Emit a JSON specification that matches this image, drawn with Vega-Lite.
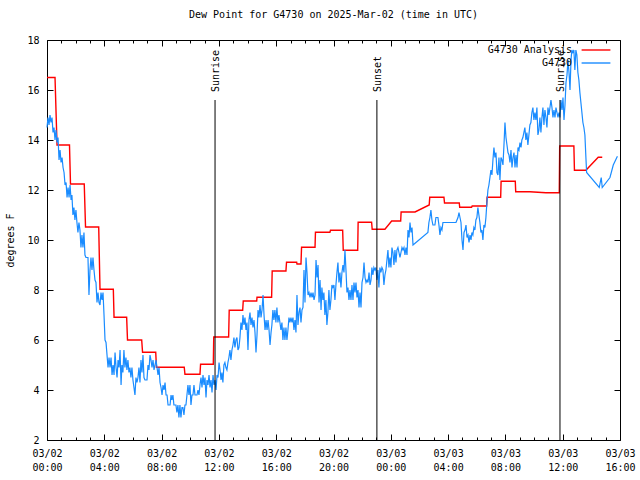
{
"$schema": "https://vega.github.io/schema/vega-lite/v6.json",
"width": 573, "height": 400,
"autosize": "none",
"padding": {"left": 47, "top": 40, "right": 20, "bottom": 40},
"background": "white",
"config": {"font": "DejaVu Sans Mono", "view": {"stroke": "black", "strokeWidth": 1},
 "axis": {"grid": false, "domain": false, "tickColor": "black", "labelColor": "black", "labelFontSize": 10, "labelFont": "DejaVu Sans Mono", "titleFont": "DejaVu Sans Mono", "titleFontSize": 10, "titleFontWeight": "normal", "titleColor": "black", "tickWidth": 1}},
"title": {"text": "Dew Point for G4730 on 2025-Mar-02 (time in UTC)", "fontSize": 10, "fontWeight": "normal", "font": "DejaVu Sans Mono", "anchor": "middle", "offset": 15, "color": "black"},
"datasets": {
"analysis": [
{"t":0,"v":16.5},{"t":0.56,"v":16.5},{"t":0.70,"v":13.8},{"t":1.57,"v":13.8},{"t":1.64,"v":12.24},{"t":2.60,"v":12.24},{"t":2.69,"v":10.52},{"t":3.61,"v":10.52},{"t":3.70,"v":8.03},{"t":4.63,"v":8.03},{"t":4.68,"v":6.91},{"t":5.56,"v":6.91},{"t":5.62,"v":6.0},{"t":6.61,"v":6.0},{"t":6.67,"v":5.51},{"t":7.59,"v":5.51},{"t":7.64,"v":4.91},{"t":9.58,"v":4.91},{"t":9.63,"v":4.63},{"t":10.68,"v":4.63},{"t":10.72,"v":5.03},{"t":11.61,"v":5.03},{"t":11.64,"v":6.12},{"t":12.68,"v":6.12},{"t":12.72,"v":7.19},{"t":13.66,"v":7.19},{"t":13.70,"v":7.56},{"t":14.64,"v":7.56},{"t":14.66,"v":7.71},{"t":15.68,"v":7.71},{"t":15.72,"v":8.76},{"t":16.68,"v":8.76},{"t":16.72,"v":9.11},{"t":17.43,"v":9.11},{"t":17.45,"v":9.04},{"t":17.73,"v":9.04},{"t":17.77,"v":9.71},{"t":18.71,"v":9.71},{"t":18.74,"v":10.31},{"t":19.75,"v":10.31},{"t":19.79,"v":10.39},{"t":20.64,"v":10.39},{"t":20.68,"v":9.59},{"t":21.69,"v":9.59},{"t":21.72,"v":10.71},{"t":22.66,"v":10.71},{"t":22.70,"v":10.43},{"t":23.59,"v":10.43},{"t":24.06,"v":10.76},{"t":24.69,"v":10.76},{"t":24.72,"v":11.12},{"t":25.69,"v":11.12},{"t":26.68,"v":11.4},{"t":26.72,"v":11.71},{"t":27.71,"v":11.71},{"t":27.75,"v":11.48},{"t":28.78,"v":11.48},{"t":28.81,"v":11.31},{"t":29.64,"v":11.31},{"t":29.68,"v":11.36},{"t":30.69,"v":11.36},{"t":30.72,"v":11.71},{"t":31.67,"v":11.71},{"t":31.70,"v":12.35},{"t":32.69,"v":12.35},{"t":32.72,"v":11.93},{"t":33.71,"v":11.93},{"t":34.83,"v":11.89},{"t":35.76,"v":11.89},{"t":35.79,"v":13.76},{"t":36.78,"v":13.76},{"t":36.82,"v":12.79},{"t":37.62,"v":12.79},{"t":38.48,"v":13.31},{"t":38.76,"v":13.31}
],
"obs": [
{"t":0.00,"v":14.5},{"t":0.07,"v":14.9},{"t":0.14,"v":14.6},{"t":0.21,"v":15.0},{"t":0.28,"v":14.7},{"t":0.35,"v":14.9},{"t":0.42,"v":14.3},{"t":0.49,"v":14.5},{"t":0.56,"v":14.0},{"t":0.63,"v":14.4},{"t":0.70,"v":13.9},{"t":0.77,"v":14.1},{"t":0.84,"v":13.2},{"t":0.91,"v":13.6},{"t":0.98,"v":13.1},{"t":1.05,"v":13.3},{"t":1.12,"v":12.9},{"t":1.19,"v":12.7},{"t":1.26,"v":12.2},{"t":1.33,"v":12.3},{"t":1.40,"v":11.7},{"t":1.47,"v":12.1},{"t":1.54,"v":11.7},{"t":1.61,"v":12.2},{"t":1.68,"v":11.6},{"t":1.74,"v":11.8},{"t":1.81,"v":11.0},{"t":1.88,"v":11.3},{"t":1.95,"v":10.8},{"t":2.02,"v":11.2},{"t":2.09,"v":10.7},{"t":2.16,"v":10.3},{"t":2.23,"v":10.7},{"t":2.30,"v":10.4},{"t":2.37,"v":9.7},{"t":2.44,"v":10.2},{"t":2.51,"v":9.7},{"t":2.58,"v":10.3},{"t":2.65,"v":9.4},{"t":2.72,"v":9.3},{"t":2.86,"v":9.3},{"t":2.93,"v":7.8},{"t":3.00,"v":8.8},{"t":3.07,"v":9.3},{"t":3.14,"v":8.8},{"t":3.21,"v":9.3},{"t":3.28,"v":8.8},{"t":3.35,"v":8.4},{"t":3.42,"v":8.3},{"t":3.49,"v":7.5},{"t":3.56,"v":7.9},{"t":3.63,"v":7.5},{"t":3.70,"v":7.4},{"t":3.77,"v":7.9},{"t":3.84,"v":7.6},{"t":3.91,"v":7.9},{"t":3.98,"v":7.0},{"t":4.05,"v":6.0},{"t":4.12,"v":5.9},{"t":4.19,"v":5.4},{"t":4.26,"v":4.9},{"t":4.33,"v":5.3},{"t":4.40,"v":4.9},{"t":4.47,"v":5.3},{"t":4.54,"v":4.6},{"t":4.61,"v":5.0},{"t":4.68,"v":4.6},{"t":4.75,"v":5.5},{"t":4.82,"v":4.9},{"t":4.89,"v":4.5},{"t":4.96,"v":5.2},{"t":5.03,"v":4.9},{"t":5.10,"v":5.6},{"t":5.17,"v":4.2},{"t":5.23,"v":5.0},{"t":5.30,"v":4.7},{"t":5.37,"v":5.6},{"t":5.44,"v":4.9},{"t":5.51,"v":5.3},{"t":5.58,"v":4.8},{"t":5.65,"v":5.2},{"t":5.72,"v":4.7},{"t":5.79,"v":4.9},{"t":5.86,"v":4.5},{"t":5.93,"v":4.9},{"t":6.00,"v":4.4},{"t":6.07,"v":4.1},{"t":6.14,"v":3.8},{"t":6.21,"v":4.5},{"t":6.28,"v":4.3},{"t":6.35,"v":4.5},{"t":6.42,"v":4.9},{"t":6.49,"v":4.3},{"t":6.56,"v":5.2},{"t":6.63,"v":4.7},{"t":6.70,"v":5.4},{"t":6.77,"v":4.5},{"t":6.84,"v":4.4},{"t":6.98,"v":4.4},{"t":7.05,"v":5.0},{"t":7.12,"v":4.8},{"t":7.19,"v":5.4},{"t":7.26,"v":5.2},{"t":7.33,"v":4.9},{"t":7.40,"v":5.2},{"t":7.47,"v":4.8},{"t":7.54,"v":5.0},{"t":7.61,"v":5.2},{"t":7.68,"v":4.9},{"t":7.75,"v":4.6},{"t":7.82,"v":4.9},{"t":7.89,"v":4.3},{"t":7.96,"v":4.1},{"t":8.03,"v":3.8},{"t":8.10,"v":4.2},{"t":8.17,"v":4.0},{"t":8.24,"v":4.3},{"t":8.31,"v":3.8},{"t":8.38,"v":3.8},{"t":8.45,"v":3.4},{"t":8.59,"v":3.4},{"t":8.66,"v":3.8},{"t":8.72,"v":3.6},{"t":8.79,"v":3.8},{"t":8.86,"v":3.4},{"t":9.00,"v":3.4},{"t":9.07,"v":3.1},{"t":9.14,"v":3.4},{"t":9.21,"v":2.9},{"t":9.28,"v":3.4},{"t":9.35,"v":2.9},{"t":9.42,"v":3.3},{"t":9.49,"v":3.3},{"t":9.56,"v":3.0},{"t":9.63,"v":3.4},{"t":9.70,"v":3.4},{"t":9.77,"v":3.8},{"t":9.84,"v":4.2},{"t":9.91,"v":3.8},{"t":9.98,"v":4.2},{"t":10.05,"v":3.4},{"t":10.12,"v":3.8},{"t":10.19,"v":3.8},{"t":10.26,"v":4.2},{"t":10.33,"v":3.8},{"t":10.47,"v":3.8},{"t":10.54,"v":4.0},{"t":10.61,"v":3.8},{"t":10.68,"v":4.2},{"t":10.75,"v":4.5},{"t":10.82,"v":4.1},{"t":10.89,"v":4.6},{"t":10.96,"v":4.2},{"t":11.03,"v":4.5},{"t":11.10,"v":3.7},{"t":11.17,"v":4.4},{"t":11.24,"v":4.2},{"t":11.31,"v":4.6},{"t":11.38,"v":4.1},{"t":11.45,"v":4.4},{"t":11.52,"v":3.9},{"t":11.59,"v":4.6},{"t":11.66,"v":4.2},{"t":11.73,"v":4.4},{"t":11.80,"v":4.0},{"t":11.87,"v":4.6},{"t":11.94,"v":4.5},{"t":12.01,"v":5.1},{"t":12.08,"v":4.8},{"t":12.15,"v":4.4},{"t":12.21,"v":4.7},{"t":12.28,"v":4.3},{"t":12.35,"v":5.0},{"t":12.42,"v":5.1},{"t":12.49,"v":4.9},{"t":12.56,"v":4.8},{"t":12.63,"v":5.1},{"t":12.70,"v":5.3},{"t":12.77,"v":5.6},{"t":12.84,"v":5.2},{"t":12.91,"v":5.6},{"t":12.98,"v":5.8},{"t":13.05,"v":6.1},{"t":13.12,"v":5.7},{"t":13.19,"v":6.0},{"t":13.26,"v":6.1},{"t":13.33,"v":5.6},{"t":13.40,"v":5.7},{"t":13.47,"v":6.1},{"t":13.54,"v":6.7},{"t":13.61,"v":6.4},{"t":13.68,"v":7.0},{"t":13.75,"v":6.6},{"t":13.82,"v":6.9},{"t":13.89,"v":6.4},{"t":13.96,"v":6.7},{"t":14.03,"v":5.6},{"t":14.10,"v":6.8},{"t":14.17,"v":7.1},{"t":14.24,"v":6.6},{"t":14.31,"v":6.9},{"t":14.38,"v":6.5},{"t":14.45,"v":6.8},{"t":14.52,"v":6.3},{"t":14.59,"v":5.5},{"t":14.66,"v":6.2},{"t":14.73,"v":7.2},{"t":14.80,"v":6.9},{"t":14.87,"v":7.4},{"t":14.94,"v":6.9},{"t":15.01,"v":7.2},{"t":15.08,"v":7.8},{"t":15.15,"v":7.0},{"t":15.22,"v":6.4},{"t":15.29,"v":6.8},{"t":15.36,"v":6.4},{"t":15.43,"v":6.8},{"t":15.50,"v":6.4},{"t":15.57,"v":5.8},{"t":15.64,"v":6.3},{"t":15.70,"v":6.6},{"t":15.77,"v":7.2},{"t":15.84,"v":6.8},{"t":15.91,"v":7.2},{"t":15.98,"v":6.7},{"t":16.05,"v":7.3},{"t":16.12,"v":6.7},{"t":16.19,"v":7.0},{"t":16.26,"v":6.7},{"t":16.33,"v":6.4},{"t":16.40,"v":6.7},{"t":16.47,"v":6.0},{"t":16.54,"v":6.5},{"t":16.61,"v":6.0},{"t":16.68,"v":6.5},{"t":16.75,"v":6.0},{"t":16.82,"v":6.4},{"t":16.89,"v":6.9},{"t":16.96,"v":6.7},{"t":17.03,"v":6.9},{"t":17.10,"v":6.7},{"t":17.17,"v":6.9},{"t":17.24,"v":6.4},{"t":17.31,"v":6.8},{"t":17.38,"v":6.3},{"t":17.45,"v":7.8},{"t":17.52,"v":6.6},{"t":17.59,"v":7.1},{"t":17.66,"v":7.3},{"t":17.73,"v":6.7},{"t":17.80,"v":7.2},{"t":17.87,"v":7.3},{"t":17.94,"v":8.8},{"t":18.01,"v":7.5},{"t":18.08,"v":9.3},{"t":18.15,"v":8.7},{"t":18.22,"v":7.8},{"t":18.29,"v":7.9},{"t":18.36,"v":7.7},{"t":18.43,"v":7.9},{"t":18.50,"v":7.7},{"t":18.57,"v":7.9},{"t":18.64,"v":7.6},{"t":18.71,"v":7.8},{"t":18.78,"v":9.2},{"t":18.85,"v":8.5},{"t":18.92,"v":9.0},{"t":18.99,"v":7.5},{"t":19.06,"v":8.4},{"t":19.13,"v":7.2},{"t":19.19,"v":8.1},{"t":19.26,"v":7.6},{"t":19.33,"v":7.9},{"t":19.40,"v":7.0},{"t":19.47,"v":7.6},{"t":19.54,"v":6.6},{"t":19.61,"v":7.1},{"t":19.68,"v":8.0},{"t":19.75,"v":7.2},{"t":19.82,"v":7.6},{"t":19.89,"v":8.2},{"t":19.96,"v":8.1},{"t":20.03,"v":8.2},{"t":20.10,"v":7.6},{"t":20.17,"v":8.2},{"t":20.24,"v":8.7},{"t":20.31,"v":9.1},{"t":20.38,"v":8.3},{"t":20.45,"v":8.7},{"t":20.52,"v":8.1},{"t":20.59,"v":8.7},{"t":20.66,"v":9.0},{"t":20.73,"v":8.7},{"t":20.80,"v":9.6},{"t":20.87,"v":8.8},{"t":20.94,"v":7.9},{"t":21.01,"v":8.1},{"t":21.08,"v":7.6},{"t":21.15,"v":8.0},{"t":21.22,"v":7.6},{"t":21.29,"v":8.2},{"t":21.36,"v":7.6},{"t":21.43,"v":8.3},{"t":21.50,"v":7.9},{"t":21.57,"v":8.3},{"t":21.64,"v":7.7},{"t":21.71,"v":8.0},{"t":21.78,"v":7.3},{"t":21.85,"v":7.9},{"t":21.92,"v":7.3},{"t":21.99,"v":8.3},{"t":22.06,"v":8.5},{"t":22.13,"v":9.1},{"t":22.20,"v":8.5},{"t":22.27,"v":8.3},{"t":22.34,"v":8.4},{"t":22.41,"v":8.3},{"t":22.48,"v":8.7},{"t":22.55,"v":8.2},{"t":22.62,"v":8.4},{"t":22.68,"v":8.9},{"t":22.75,"v":8.6},{"t":22.82,"v":8.9},{"t":22.89,"v":8.8},{"t":22.96,"v":8.9},{"t":23.03,"v":8.4},{"t":23.10,"v":8.8},{"t":23.17,"v":8.1},{"t":23.24,"v":8.9},{"t":23.31,"v":8.7},{"t":23.38,"v":8.9},{"t":23.45,"v":8.8},{"t":23.52,"v":8.2},{"t":23.59,"v":8.6},{"t":23.66,"v":8.8},{"t":23.73,"v":9.2},{"t":23.80,"v":9.6},{"t":23.87,"v":8.9},{"t":23.94,"v":9.3},{"t":24.01,"v":8.9},{"t":24.08,"v":9.7},{"t":24.15,"v":9.5},{"t":24.22,"v":9.0},{"t":24.29,"v":9.6},{"t":24.36,"v":9.1},{"t":24.43,"v":9.6},{"t":24.50,"v":9.7},{"t":24.57,"v":9.5},{"t":24.64,"v":9.3},{"t":24.71,"v":9.5},{"t":24.78,"v":9.7},{"t":24.85,"v":9.6},{"t":24.92,"v":9.7},{"t":24.99,"v":9.4},{"t":25.06,"v":9.7},{"t":25.13,"v":9.4},{"t":25.20,"v":10.4},{"t":25.27,"v":10.1},{"t":25.34,"v":10.7},{"t":25.41,"v":10.3},{"t":25.48,"v":10.5},{"t":25.55,"v":9.8},{"t":26.59,"v":10.3},{"t":26.66,"v":10.7},{"t":26.73,"v":10.9},{"t":26.80,"v":11.2},{"t":26.87,"v":10.8},{"t":26.94,"v":10.6},{"t":27.08,"v":10.6},{"t":27.15,"v":10.9},{"t":27.29,"v":10.9},{"t":27.36,"v":10.6},{"t":27.43,"v":10.2},{"t":27.50,"v":10.5},{"t":27.57,"v":10.4},{"t":27.64,"v":10.7},{"t":28.55,"v":10.7},{"t":28.62,"v":10.8},{"t":28.69,"v":10.9},{"t":28.76,"v":11.1},{"t":28.83,"v":10.9},{"t":28.90,"v":10.7},{"t":28.97,"v":10.0},{"t":29.04,"v":9.6},{"t":29.11,"v":10.3},{"t":29.18,"v":10.4},{"t":29.25,"v":10.6},{"t":29.32,"v":10.1},{"t":29.39,"v":10.2},{"t":29.46,"v":9.9},{"t":29.53,"v":10.2},{"t":29.60,"v":10.0},{"t":29.66,"v":10.3},{"t":29.73,"v":10.2},{"t":29.80,"v":10.5},{"t":29.87,"v":10.4},{"t":29.94,"v":10.8},{"t":30.01,"v":10.9},{"t":30.08,"v":11.3},{"t":30.15,"v":11.0},{"t":30.22,"v":10.7},{"t":30.29,"v":10.3},{"t":30.36,"v":10.4},{"t":30.43,"v":10.0},{"t":30.50,"v":10.6},{"t":30.57,"v":10.5},{"t":30.64,"v":10.9},{"t":30.71,"v":11.5},{"t":30.78,"v":12.0},{"t":30.85,"v":12.2},{"t":30.92,"v":12.5},{"t":30.99,"v":12.8},{"t":31.06,"v":12.6},{"t":31.13,"v":13.2},{"t":31.20,"v":13.7},{"t":31.27,"v":13.3},{"t":31.34,"v":13.5},{"t":31.41,"v":12.7},{"t":31.48,"v":12.6},{"t":31.55,"v":13.3},{"t":31.62,"v":12.4},{"t":31.69,"v":13.3},{"t":31.76,"v":13.2},{"t":31.83,"v":13.0},{"t":31.90,"v":13.8},{"t":31.97,"v":14.7},{"t":32.04,"v":14.1},{"t":32.11,"v":13.8},{"t":32.18,"v":13.5},{"t":32.25,"v":13.4},{"t":32.32,"v":13.1},{"t":32.39,"v":13.6},{"t":32.46,"v":12.9},{"t":32.53,"v":13.3},{"t":32.60,"v":13.5},{"t":32.67,"v":12.9},{"t":32.74,"v":13.4},{"t":32.81,"v":12.9},{"t":32.88,"v":13.7},{"t":32.95,"v":13.6},{"t":33.02,"v":13.9},{"t":33.09,"v":13.7},{"t":33.15,"v":14.0},{"t":33.22,"v":14.1},{"t":33.29,"v":14.3},{"t":33.36,"v":14.5},{"t":33.43,"v":14.0},{"t":33.50,"v":14.3},{"t":33.57,"v":13.8},{"t":33.64,"v":14.2},{"t":33.71,"v":14.6},{"t":33.78,"v":14.7},{"t":33.85,"v":15.1},{"t":33.92,"v":15.3},{"t":33.99,"v":14.8},{"t":34.06,"v":15.1},{"t":34.13,"v":14.8},{"t":34.20,"v":15.3},{"t":34.27,"v":14.2},{"t":34.34,"v":14.4},{"t":34.41,"v":14.9},{"t":34.48,"v":14.3},{"t":34.55,"v":14.9},{"t":34.62,"v":15.3},{"t":34.69,"v":14.6},{"t":34.76,"v":15.2},{"t":34.83,"v":14.9},{"t":34.90,"v":14.5},{"t":34.97,"v":15.3},{"t":35.04,"v":15.0},{"t":35.11,"v":15.3},{"t":35.18,"v":15.6},{"t":35.25,"v":15.3},{"t":35.32,"v":14.9},{"t":35.39,"v":15.2},{"t":35.46,"v":14.9},{"t":35.53,"v":15.3},{"t":35.60,"v":15.1},{"t":35.67,"v":14.9},{"t":35.74,"v":15.1},{"t":35.81,"v":14.9},{"t":35.88,"v":15.6},{"t":35.95,"v":15.2},{"t":36.02,"v":15.7},{"t":36.09,"v":14.8},{"t":36.16,"v":15.4},{"t":36.23,"v":16.3},{"t":36.30,"v":16.6},{"t":36.37,"v":17.2},{"t":36.44,"v":16.7},{"t":36.51,"v":16.0},{"t":36.58,"v":17.2},{"t":36.64,"v":17.6},{"t":36.71,"v":17.5},{"t":36.78,"v":17.6},{"t":36.85,"v":16.8},{"t":36.92,"v":17.6},{"t":36.99,"v":17.4},{"t":37.06,"v":16.7},{"t":37.13,"v":16.4},{"t":37.20,"v":15.9},{"t":37.27,"v":15.5},{"t":37.34,"v":15.1},{"t":37.41,"v":14.7},{"t":37.48,"v":14.5},{"t":37.55,"v":14.2},{"t":37.62,"v":13.3},{"t":37.67,"v":12.7},{"t":38.55,"v":12.1},{"t":38.69,"v":12.5},{"t":38.76,"v":12.1},{"t":39.30,"v":12.5},{"t":39.53,"v":13.0},{"t":39.82,"v":13.35}
],
"sun": [{"t":11.73,"event":"Sunrise"},{"t":23.03,"event":"Sunset"},{"t":35.81,"event":"Sunrise"}]
},
"layer": [
{"data": {"name": "analysis"},
 "mark": {"type": "line", "strokeWidth": 1.4},
 "encoding": {
  "x": {"field": "t", "type": "quantitative", "scale": {"domain": [0, 40], "nice": false, "zero": false},
   "axis": {"orient": "bottom", "title": null, "values": [0,1,2,3,4,5,6,7,8,9,10,11,12,13,14,15,16,17,18,19,20,21,22,23,24,25,26,27,28,29,30,31,32,33,34,35,36,37,38,39,40],
    "tickSize": {"condition": {"test": "datum.value % 4 === 0", "value": -6}, "value": -3},
    "labelExpr": "datum.value % 4 === 0 ? [(datum.value < 24 ? '03/02' : '03/03'), (datum.value % 24 < 10 ? '0' : '') + (datum.value % 24) + ':00'] : ''",
    "labelPadding": 14, "labelLineHeight": 14, "labelFlush": false, "labelOverlap": false, "labelBaseline": "top"}},
  "y": {"field": "v", "type": "quantitative", "scale": {"domain": [2, 18], "nice": false, "zero": false},
   "axis": {"orient": "left", "values": [2,4,6,8,10,12,14,16,18], "tickSize": -6, "labelPadding": 14, "title": "degrees F", "titleX": -37, "titleY": 200, "titleAngle": 270, "titleAlign": "center", "titleBaseline": "middle"}},
  "color": {"datum": "G4730 Analysis", "type": "nominal", "scale": {"domain": ["G4730 Analysis", "G4730"], "range": ["#ff0000", "#1a8cff"]},
   "legend": {"orient": "none", "legendX": 542, "legendY": 3, "title": null, "symbolType": "M-2.4,0H2.4", "symbolSize": 144, "symbolStrokeWidth": 1.4, "labelAlign": "right", "labelOffset": -31, "labelFontSize": 10, "labelFont": "DejaVu Sans Mono", "labelColor": "black", "rowPadding": 1, "labelLimit": 300}}
 }},
{"data": {"name": "obs"},
 "mark": {"type": "line", "strokeWidth": 1.2},
 "encoding": {
  "x": {"field": "t", "type": "quantitative",
   "axis": {"orient": "top", "title": null, "labels": false, "values": [0,1,2,3,4,5,6,7,8,9,10,11,12,13,14,15,16,17,18,19,20,21,22,23,24,25,26,27,28,29,30,31,32,33,34,35,36,37,38,39,40],
    "tickSize": {"condition": {"test": "datum.value % 4 === 0", "value": -6}, "value": -3}}},
  "y": {"field": "v", "type": "quantitative",
   "axis": {"orient": "right", "values": [2,4,6,8,10,12,14,16,18], "tickSize": -6, "labels": false, "title": null}},
  "color": {"datum": "G4730", "type": "nominal"}
 }},
{"data": {"name": "sun"},
 "mark": {"type": "rule", "color": "black", "strokeWidth": 1},
 "encoding": {
  "x": {"field": "t", "type": "quantitative", "axis": null},
  "y": {"datum": 2, "type": "quantitative", "axis": null},
  "y2": {"datum": 15.6}
 }},
{"data": {"name": "sun"},
 "mark": {"type": "text", "angle": 270, "align": "left", "baseline": "middle", "fontSize": 10, "font": "DejaVu Sans Mono", "color": "black", "dy": 1},
 "encoding": {
  "x": {"field": "t", "type": "quantitative", "axis": null},
  "y": {"datum": 15.92, "type": "quantitative", "axis": null},
  "text": {"field": "event"}
 }}
],
"resolve": {"axis": {"x": "independent", "y": "independent"}}
}
